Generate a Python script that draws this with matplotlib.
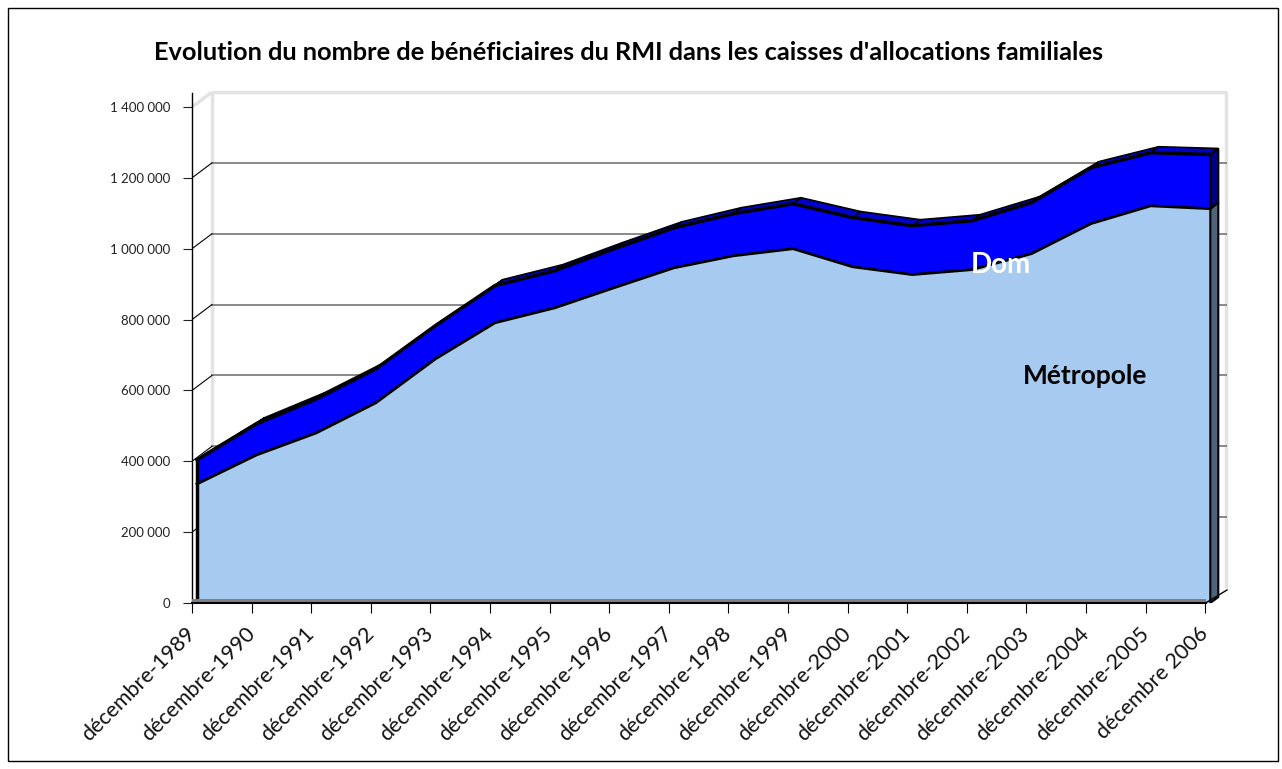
import matplotlib.pyplot as plt
from matplotlib.patches import Polygon, Rectangle
from matplotlib.ticker import FuncFormatter
import numpy as np

plt.rcParams['font.family'] = ['Lato', 'DejaVu Sans']

titre = "Evolution du nombre de bénéficiaires du RMI dans les caisses d'allocations familiales"
mois = ["décembre-1989", "décembre-1990", "décembre-1991", "décembre-1992",
        "décembre-1993", "décembre-1994", "décembre-1995", "décembre-1996",
        "décembre-1997", "décembre-1998", "décembre-1999", "décembre-2000",
        "décembre-2001", "décembre-2002", "décembre-2003", "décembre-2004",
        "décembre-2005", "décembre 2006"]
metropole = [336000, 418000, 480000, 565000, 689000, 791000, 833000, 890000, 946000,
             980000, 1000000, 949000, 927000, 941000, 986000, 1071000, 1121000, 1113000]
dom = [68000, 88000, 96000, 96000, 94000, 105000, 105000, 110000, 113000,
       119000, 127000, 139000, 138000, 138000, 144000, 158000, 150000, 153000]
graduations = [0, 200000, 400000, 600000, 800000, 1000000, 1200000, 1400000]

W, H = 1282, 769
fig = plt.figure(figsize=(W / 100, H / 100), dpi=100)
ax = fig.add_axes([192 / W, 166 / H, 1035 / W, 510 / H])

x = np.arange(len(metropole))
metro = np.array(metropole)
total = metro + np.array(dom)
n = len(x) - 1

x0, x1 = -0.084, 17.28
ax.set_xlim(x0, x1)
ax.set_ylim(0, 1439500)

# 3D offsets (back wall, series depth)
wdx, wdy = 0.336, 42340
sdx, sdy = 0.134, 16900

# back wall
for v in graduations[1:-1]:
    ax.plot([x0 + wdx, x1], [v + wdy, v + wdy], color='#808080', lw=1.3, zorder=1)
for v in graduations[:-1]:
    ax.plot([x0, x0 + wdx], [v, v + wdy], color='black', lw=0.8, zorder=1)
haut = graduations[-1] + wdy
wall = dict(color='#e3e3e3', lw=2.5, zorder=0.5, clip_on=False, solid_capstyle='butt')
ax.plot([x0, x0 + wdx], [graduations[-1], haut], **wall)
ax.plot([x0 + wdx, x0 + wdx], [wdy, haut], **wall)
ax.plot([x0 + wdx, x1], [haut, haut], **wall)
ax.plot([x1 - 0.02, x1 - 0.02], [wdy, haut], **wall)

# areas (front face)
ax.fill_between(x, 0, metro, color='#A6CAF0', lw=0, zorder=3)
ax.fill_between(x, metro, total, color='#0000FF', lw=0, zorder=3)

# top band of Dom
for i in range(n):
    pts = [(x[i], total[i]), (x[i + 1], total[i + 1]),
           (x[i + 1] + sdx, total[i + 1] + sdy), (x[i] + sdx, total[i] + sdy)]
    ax.add_patch(Polygon(pts, closed=True, fc='#0000CC', ec='black', lw=1.2, zorder=3.5))

# right face
ax.add_patch(Polygon([(x[n], 0), (x[n], metro[n]), (x[n] + sdx, metro[n] + sdy),
                      (x[n] + sdx, sdy)], closed=True, fc='#4F6478', ec='black', lw=1.5, zorder=3.5))
ax.add_patch(Polygon([(x[n], metro[n]), (x[n], total[n]), (x[n] + sdx, total[n] + sdy),
                      (x[n] + sdx, metro[n] + sdy)], closed=True, fc='#000080', ec='black', lw=1.5, zorder=3.5))

ax.plot(x, metro, color='black', lw=2, zorder=4)
ax.plot(x, total, color='black', lw=2.5, zorder=4)
ax.plot([0, 0], [0, total[0]], color='black', lw=2.5, zorder=4)

# floor strip
ax.fill_between([x0, x[n] - 0.08], 0, 11000, color='#808080', lw=0, zorder=5)
ax.plot([x[n] - 0.08, x1], [0, 36700], color='black', lw=1, zorder=5, clip_on=False)

# labels in chart
ax.text(13.49, 954000, "Dom", color='white', fontsize=20, fontweight='bold',
        ha='center', va='center', zorder=6)
ax.text(14.9, 641000, "Métropole", color='black', fontsize=19, fontweight='bold',
        ha='center', va='center', zorder=6)

# axes
for s in ['top', 'right']:
    ax.spines[s].set_visible(False)
ax.spines['left'].set_linewidth(1)
ax.spines['bottom'].set_linewidth(1.5)
ax.spines['bottom'].set_bounds(x0, x[n] - 0.08)
ax.spines['bottom'].set_zorder(6)
ax.set_yticks(graduations)
ax.yaxis.set_major_formatter(FuncFormatter(lambda v, p: f"{int(v):,}".replace(",", " ")))
ax.tick_params(axis='y', length=6.5, width=0.8, pad=9, labelsize=9.5, colors='#222222')
ax.set_xticks(x - 0.084)
ax.set_xticklabels(mois, rotation=45, ha='right', va='center', rotation_mode='anchor',
                   fontsize=15.5, color='#111111')
ax.tick_params(axis='x', length=7, width=0.8, pad=13)

fig.text(629 / W, 1 - 52 / H, titre, ha='center', va='center', fontsize=18.3, fontweight='bold')
fig.patches.append(Rectangle((8 / W, 8 / H), 1270 / W, 753 / H, transform=fig.transFigure,
                             fill=False, ec='black', lw=1))

fig.savefig("out.png", dpi=100)
